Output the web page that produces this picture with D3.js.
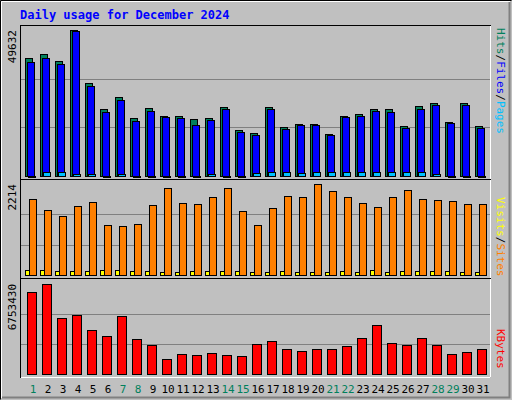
<!DOCTYPE html>
<html><head><meta charset="utf-8">
<script src="https://cdn.jsdelivr.net/npm/d3@7"></script>
<style>body{margin:0;background:#fff}svg{display:block}</style>
</head><body><div id="chart"></div>
<script>
var days = d3.range(1, 32);
var weekend = [1, 7, 8, 14, 15, 21, 22, 28, 29];
var hits = [40100,41500,39100,49632,31600,22800,26900,19700,23100,20400,20400,19400,19700,23500,15600,14600,23500,16700,17700,17700,14300,20400,21100,22800,22800,17000,23800,24800,18400,24800,17000];
var files = [38800,40100,38100,49300,30600,21800,25800,18700,22100,20100,19700,17300,19000,22800,15000,13900,22800,16000,17300,17300,13900,20100,20400,22100,21800,16300,22800,24100,18000,24100,16300];
var pages = [100,1200,1200,600,600,100,600,100,100,100,100,100,600,100,100,1000,1200,1200,900,1200,1200,1200,1200,1200,1200,1200,1200,600,100,100,100];
var visits = [1853,1589,1444,1685,1781,1228,1204,1252,1709,2118,1757,1733,1901,2118,1565,1228,1637,1926,1901,2214,2046,1901,1757,1661,1901,2070,1853,1829,1805,1733,1733];
var sites = [120,120,90,90,90,120,120,90,90,70,70,90,90,90,90,70,70,90,70,70,70,90,70,120,70,90,90,90,90,70,70];
var kbytes = [6159700,6753430,4230100,4452800,3265400,2820100,4378600,2597500,2152200,1113200,1484300,1410000,1558500,1410000,1335800,2226400,2449000,1855300,1706900,1855300,1855300,2078000,2671700,3710700,2300600,2152200,2671700,2152200,1484300,1632700,1855300];

var W = 512, H = 400, font = "'DejaVu Sans Mono', monospace";
var svg = d3.select("#chart").append("svg").attr("width", W).attr("height", H);
svg.append("rect").attr("width", W).attr("height", H).attr("fill", "#c0c0c0");
// bevel
svg.append("path").attr("d", "M0.5,399.5V0.5H511.5").attr("stroke", "#000").attr("fill", "none");
svg.append("path").attr("d", "M1.5,398V1.5H510").attr("stroke", "#fff").attr("fill", "none");
svg.append("path").attr("d", "M2,397.5H509.5V2").attr("stroke", "#808080").attr("fill", "none").attr("stroke-width", 2);

svg.append("text").attr("x", 20).attr("y", 19).attr("fill", "#0000ff")
	.attr("font-family", font).attr("font-weight", "bold").attr("font-size", 12)
	.text("Daily usage for December 2024");

var x = d3.scaleLinear().domain([1, 31]).range([33, 483]);

function panel(top, bottom, max, maxTop, maxLabel){
	svg.append("rect").attr("x", 20.5).attr("y", top + 0.5).attr("width", 470).attr("height", bottom - top)
		.attr("fill", "none").attr("stroke", "#000");
	svg.append("path").attr("d", "M21," + (bottom + 0.5) + "H490.5V" + (top + 1))
		.attr("stroke", "#fff").attr("fill", "none");
	var y = d3.scaleLinear().domain([0, max]).range([bottom - 3, maxTop]);
	var g1 = bottom - 3 - (bottom - 3 - maxTop) / 3, g2 = bottom - 3 - 2 * (bottom - 3 - maxTop) / 3;
	[g1, g2].forEach(function(gy){
		svg.append("line").attr("x1", 21).attr("x2", 490).attr("y1", Math.round(gy) + 0.5).attr("y2", Math.round(gy) + 0.5)
			.attr("stroke", "#808080");
	});
	svg.append("text").attr("transform", "translate(16," + maxTop + ") rotate(-90)")
		.attr("text-anchor", "end").attr("font-family", font).attr("font-size", 11).text(maxLabel);
	return y;
}

function bars(data, y, dx, w, color){
	svg.append("g").selectAll("rect").data(data).enter().append("rect")
		.attr("x", function(d, i){ return x(days[i]) + dx + 0.5; })
		.attr("y", function(d){ return Math.round(y(d)) + 0.5; })
		.attr("width", w)
		.attr("height", function(d){ return Math.max(1, y.range()[0] - Math.round(y(d))); })
		.attr("fill", color).attr("stroke", "#000");
}

var y1 = panel(25, 179, 49632, 30, "49632");
bars(hits, y1, -8, 7, "#00805c");
bars(files, y1, -6, 7, "#0000ff");
bars(pages, y1, -5, 7, "#00c0ff");

var y2 = panel(179, 278, 2214, 184, "2214");
bars(sites, y2, -8, 4, "#ffff00");
bars(visits, y2, -4, 7, "#ff8000");

var y3 = panel(278, 377, 6753430, 284, "6753430");
bars(kbytes, y3, -6, 9, "#ff0000");

svg.append("g").selectAll("text").data(days).enter().append("text")
	.attr("x", function(d){ return x(d); }).attr("y", 393).attr("text-anchor", "middle")
	.attr("font-family", font).attr("font-size", 11)
	.attr("fill", function(d){ return weekend.indexOf(d) >= 0 ? "#00805c" : "#000"; })
	.text(function(d){ return d; });

function sideLabel(yy, parts){
	var t = svg.append("text").attr("transform", "translate(497," + yy + ") rotate(90)")
		.attr("font-family", font).attr("font-size", 11);
	parts.forEach(function(p){ t.append("tspan").attr("fill", p[1]).text(p[0]); });
}
sideLabel(28, [["Hits", "#00805c"], ["/", "#000"], ["Files", "#0000ff"], ["/", "#000"], ["Pages", "#00c0ff"]]);
sideLabel(197, [["Visits", "#ffff00"], ["/", "#000"], ["Sites", "#ff8000"]]);
sideLabel(329, [["KBytes", "#ff0000"]]);
d3.selectAll("text").filter(function(){ return this.getAttribute("transform") && this.getAttribute("transform").indexOf("rotate(90)") > 0; })
	.attr("transform", function(){ return this.getAttribute("transform").replace("rotate(90)", "rotate(90)"); });
</script></body></html>
